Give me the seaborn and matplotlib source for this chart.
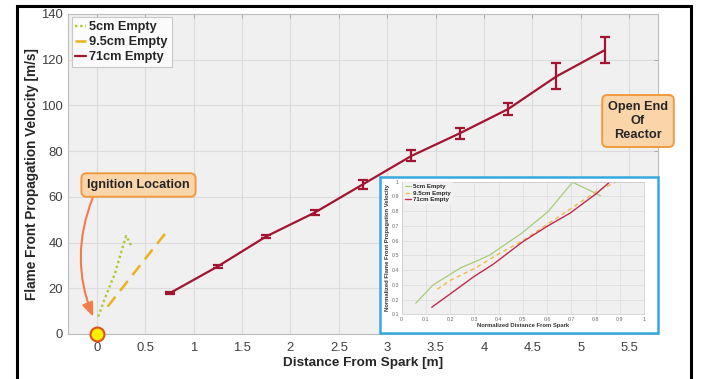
import numpy as np
import pandas as pd
import matplotlib
matplotlib.use("Agg")
import matplotlib.pyplot as plt
import seaborn as sns
from matplotlib.patches import Rectangle

# ---- measured flame front velocities ----
dist_5cm = [0.013, 0.075, 0.144, 0.18, 0.30, 0.357]
vel_5cm = [7.6, 14.9, 22.2, 25.8, 42.9, 38.5]

dist_95cm = [0.11, 0.72]
vel_95cm = [12.0, 44.8]

dist_71cm = [0.75, 1.25, 1.75, 2.25, 2.75, 3.25, 3.75, 4.25, 4.75, 5.25]
vel_71cm = [17.8, 29.6, 42.7, 53.1, 65.5, 77.9, 87.8, 98.4, 112.7, 124.2]
err_71cm = [0.5, 0.7, 0.5, 1.0, 2.0, 2.4, 2.4, 2.6, 5.7, 5.7]

# ---- normalized profiles (inset) ----
ndist_5cm = [0.058, 0.13, 0.245, 0.31, 0.364, 0.495, 0.604, 0.705, 0.79, 0.82]
nvel_5cm = [0.175, 0.30, 0.417, 0.462, 0.503, 0.65, 0.797, 0.996, 0.93, 0.905]

ndist_95cm = [0.147, 0.2, 0.3, 0.4, 0.5, 0.6, 0.7, 0.8, 0.886]
nvel_95cm = [0.27, 0.33, 0.41, 0.51, 0.60, 0.71, 0.82, 0.93, 1.0]

ndist_71cm = [0.124, 0.2, 0.298, 0.378, 0.5, 0.598, 0.694, 0.804, 0.86]
nvel_71cm = [0.148, 0.238, 0.356, 0.44, 0.593, 0.695, 0.786, 0.92, 1.0]

x_ticks = [0, 0.5, 1, 1.5, 2, 2.5, 3, 3.5, 4, 4.5, 5, 5.5]
x_tick_labels = ["0", "0.5", "1", "1.5", "2", "2.5", "3", "3.5", "4", "4.5", "5", "5.5"]
y_ticks = [0, 20, 40, 60, 80, 100, 120, 140]

C5 = "#B3C62E"
C95 = "#EDB120"
C71 = "#A2142F"

sns.set_theme(style="whitegrid")
plt.rcParams["font.family"] = ["Liberation Sans", "DejaVu Sans"]

fig = plt.figure(figsize=(7.04, 3.79), dpi=100)
fig.patch.set_facecolor("white")

ax = fig.add_axes([68 / 704, 1 - 334 / 379, 590 / 704, 320 / 379])
ax.set_facecolor("#F0F0F0")

df5 = pd.DataFrame({"x": dist_5cm, "y": vel_5cm})
df95 = pd.DataFrame({"x": dist_95cm, "y": vel_95cm})
df71 = pd.DataFrame({"x": dist_71cm, "y": vel_71cm})

sns.lineplot(data=df5, x="x", y="y", ax=ax, color=C5, lw=1.7, linestyle=(0, (1, 1.2)),
             label="5cm Empty", sort=False)
sns.lineplot(data=df95, x="x", y="y", ax=ax, color=C95, lw=1.8, linestyle=(0, (5, 3)),
             label="9.5cm Empty", sort=False)
sns.lineplot(data=df71, x="x", y="y", ax=ax, color=C71, lw=1.6,
             label="71cm Empty", sort=False)
ax.errorbar(dist_71cm, vel_71cm, yerr=err_71cm, fmt="none", ecolor=C71,
            elinewidth=1.6, capsize=3.8, capthick=1.6, zorder=3)

ax.set_xlim(-0.3, 5.8)
ax.set_ylim(0, 140)
ax.set_xticks(x_ticks)
ax.set_xticklabels(x_tick_labels)
ax.set_yticks(y_ticks)
ax.grid(True, color="#DCDCDC", lw=0.8)
for s in ax.spines.values():
    s.set_color("#BDBDBD")
    s.set_linewidth(0.8)
ax.tick_params(axis="both", direction="in", length=3, width=0.6, color="#A0A0A0",
               labelsize=9.4, labelcolor="#404040", top=True, right=True)
ax.tick_params(axis="x", pad=6)
ax.tick_params(axis="y", pad=3.5)
ax.set_xlabel("Distance From Spark [m]", fontsize=9.7, fontweight="bold", color="#262626", labelpad=2)
ax.set_ylabel("Flame Front Propagation Velocity [m/s]", fontsize=9.8, fontweight="bold",
              color="#262626", labelpad=1.5)

leg = ax.legend(loc="upper left", bbox_to_anchor=(0.006, 0.99), frameon=True, fancybox=False,
                fontsize=9.2, handlelength=0.8, handletextpad=0.3, borderpad=0.3,
                labelspacing=0.25, borderaxespad=0)
leg.get_frame().set_edgecolor("#BDBDBD")
leg.get_frame().set_linewidth(0.8)
leg.get_frame().set_facecolor("white")
for t in leg.get_texts():
    t.set_fontweight("bold")

# spark location marker and callout
ax.plot([0], [0], marker="o", ms=10, mfc="#FFEE00", mec="#E0501A", mew=1.5,
        clip_on=False, zorder=6)
ax.annotate("", xy=(-0.04, 7.5), xytext=(-0.045, 59.5),
            arrowprops=dict(arrowstyle="-|>,head_length=0.7,head_width=0.28", color="#F47C4A",
                            lw=1.5, connectionstyle="arc3,rad=0.2", shrinkA=0, shrinkB=0),
            zorder=5)
box_kw = dict(boxstyle="round,pad=0.45,rounding_size=0.4", fc="#FBD5AA", ec="#F29A3F", lw=1.4)
fig.text(138.5 / 704, 1 - 185 / 379, "Ignition Location", ha="center", va="center",
         fontsize=9.2, fontweight="bold", color="#262626", bbox=box_kw)
fig.text(638 / 704, 1 - 121 / 379, "Open End\nOf\nReactor", ha="center", va="center",
         fontsize=9.2, fontweight="bold", color="#262626", linespacing=1.25, bbox=box_kw)

# inset frame
fig.patches.append(Rectangle((380 / 704, 1 - 333 / 379), 278 / 704, 156 / 379,
                             transform=fig.transFigure, fc="white", ec="#35A9DF", lw=1.8,
                             zorder=4))

axi = fig.add_axes([401.7 / 704, 1 - 314.3 / 379, 242.3 / 704, 132.6 / 379], zorder=5)
axi.set_facecolor("#F0F0F0")
sns.lineplot(x=ndist_5cm, y=nvel_5cm, ax=axi, color="#A8CC78", lw=0.9, label="5cm Empty", sort=False)
sns.lineplot(x=ndist_95cm, y=nvel_95cm, ax=axi, color="#F2B844", lw=1.0, linestyle=(0, (3, 2.5)),
             label="9.5cm Empty", sort=False)
sns.lineplot(x=ndist_71cm, y=nvel_71cm, ax=axi, color="#BE2A50", lw=1.0, label="71cm Empty", sort=False)
axi.set_xlim(0, 1)
axi.set_ylim(0.1, 1)
axi.set_xticks(np.round(np.arange(0, 1.01, 0.1), 1))
axi.set_xticklabels(["0", "0.1", "0.2", "0.3", "0.4", "0.5", "0.6", "0.7", "0.8", "0.9", "1"])
axi.set_yticks(np.round(np.arange(0.1, 1.01, 0.1), 1))
axi.set_yticklabels(["0.1", "0.2", "0.3", "0.4", "0.5", "0.6", "0.7", "0.8", "0.9", "1"])
axi.grid(True, color="#DCDCDC", lw=0.5)
for s in axi.spines.values():
    s.set_color("#C8C8C8")
    s.set_linewidth(0.5)
axi.tick_params(axis="both", direction="in", length=1.5, width=0.4, color="#A0A0A0",
                labelsize=3.8, labelcolor="#666666", pad=2)
axi.set_xlabel("Normalized Distance From Spark", fontsize=4.2, fontweight="bold",
               color="#333333", labelpad=1)
axi.set_ylabel("Normalized Flame Front Propagation Velocity", fontsize=4.2, fontweight="bold",
               color="#333333", labelpad=1)
li = axi.legend(loc="upper left", bbox_to_anchor=(0.005, 0.995), fontsize=4.4, frameon=True,
                fancybox=False, handlelength=1.0, handletextpad=0.3, borderpad=0.3,
                labelspacing=0.2, borderaxespad=0)
li.get_frame().set_edgecolor("#F0F0F0")
li.get_frame().set_facecolor("#F6F6F6")
for t in li.get_texts():
    t.set_fontweight("bold")

# outer border
fig.patches.append(Rectangle((17 / 704, -0.05), 674 / 704, 1.05 - 5.5 / 379,
                             transform=fig.transFigure, fc="none", ec="black", lw=2.2,
                             zorder=10))

fig.savefig("out.png", dpi=100)
